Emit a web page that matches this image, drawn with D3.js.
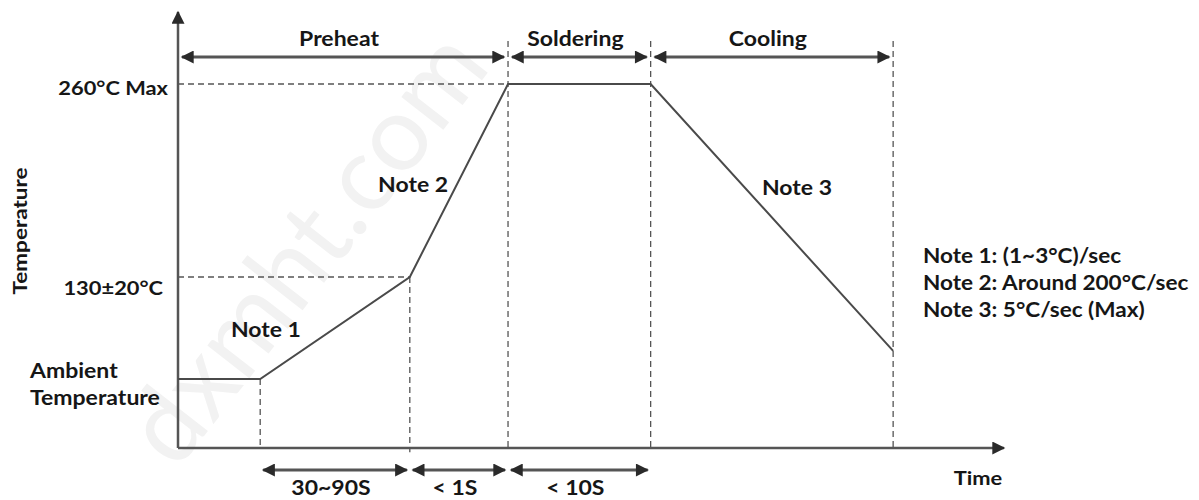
<!DOCTYPE html>
<html>
<head>
<meta charset="utf-8">
<script src="https://cdn.jsdelivr.net/npm/d3@7"></script>
<style>
  body { margin: 0; background: #fff; }
  text { font-family: Lato, "Open Sans", sans-serif; font-weight: bold; fill: #161616; }
</style>
</head>
<body>
<div id="chart"></div>
<script>
// reflow profile key points (time in schematic units, temp in °C)
const profileTime = [0, 10, 28.2, 40.15, 57.5, 87];
const profileTemp = [61.3, 61.3, 130, 260, 260, 80.2];

// phases along the top
const phaseNames = ['Preheat', 'Soldering', 'Cooling'];
const phaseStart = [0, 40.15, 57.5];
const phaseEnd = [40.15, 57.5, 87];

// durations along the bottom
const durLabels = ['30~90S', '< 1S', '< 10S'];
const durStart = [10, 28.2, 40.15];
const durEnd = [28.2, 40.15, 57.5];

// slope notes on the curve
const noteLabels = ['Note 1', 'Note 2', 'Note 3'];
const noteTime = [10.7, 28.6, 75.3];
const noteTemp = [89.6, 187.3, 185.3];

const legendLines = ['Note 1: (1~3°C)/sec', 'Note 2: Around 200°C/sec', 'Note 3: 5°C/sec (Max)'];

const width = 1199;
const height = 500;
const margin = { top: 12, right: 199, bottom: 52, left: 178 };

const svg = d3.select('#chart')
  .append('svg')
  .attr('width', width)
  .attr('height', height);

const x = d3.scaleLinear()
  .domain([0, 100])
  .range([margin.left, width - margin.right]);

const y = d3.scaleLinear()
  .domain([14.8, 308.5])
  .range([height - margin.bottom, margin.top]);

const sx = 1.15; // the source lettering is a little wide

const defs = svg.append('defs');
defs.append('marker')
  .attr('id', 'head')
  .attr('viewBox', '0 0 10 10')
  .attr('refX', 9).attr('refY', 5)
  .attr('markerWidth', 15).attr('markerHeight', 13)
  .attr('markerUnits', 'userSpaceOnUse')
  .attr('orient', 'auto-start-reverse')
  .append('path')
  .attr('d', 'M0,0 L10,5 L0,10 Z')
  .attr('fill', '#2a2a2a');

// watermark
svg.append('text')
  .attr('transform', `translate(${x(19)},${y(135)}) rotate(-52)`)
  .attr('text-anchor', 'middle')
  .attr('font-size', 105)
  .style('font-weight', 'normal')
  .style('fill', '#f2f2f2')
  .text('dxmht.com');

function label(px, py, txt, size, anchor) {
  return svg.append('text')
    .attr('transform', `translate(${px},${py}) scale(${sx},1)`)
    .attr('text-anchor', anchor || 'start')
    .attr('font-size', size)
    .text(txt);
}

// axes
svg.append('line')
  .attr('x1', x(0)).attr('x2', x(0))
  .attr('y1', y(14.8)).attr('y2', y(308.5))
  .attr('stroke', '#555').attr('stroke-width', 2.5)
  .attr('marker-end', 'url(#head)');

svg.append('line')
  .attr('x1', x(0)).attr('x2', x(100) + 4)
  .attr('y1', y(14.8)).attr('y2', y(14.8))
  .attr('stroke', '#555').attr('stroke-width', 2.5)
  .attr('marker-end', 'url(#head)');

const dash = g => g.attr('stroke', '#555').attr('stroke-width', 1.3).attr('stroke-dasharray', '6,4');

// horizontal dashed guides
[[130, 28.2], [260, 40.15]].forEach(([t, tm]) => {
  svg.append('line')
    .attr('x1', x(0)).attr('x2', x(tm))
    .attr('y1', y(t)).attr('y2', y(t))
    .call(dash);
});

// vertical dashed guides
const vGuides = [
  { t: 10, top: 61.3, bottom: 14.8 },
  { t: 28.2, top: 130, bottom: 12 },
  { t: 40.15, top: 289, bottom: 14.8 },
  { t: 57.5, top: 289, bottom: 14.8 },
  { t: 87, top: 289, bottom: 14.8 }
];
vGuides.forEach(d => {
  svg.append('line')
    .attr('x1', x(d.t)).attr('x2', x(d.t))
    .attr('y1', y(d.top)).attr('y2', y(d.bottom))
    .call(dash);
});

// profile line
const line = d3.line()
  .x((d, i) => x(profileTime[i]))
  .y(d => y(d));

svg.append('path')
  .datum(profileTemp)
  .attr('d', line)
  .attr('fill', 'none')
  .attr('stroke', '#4a4a4a')
  .attr('stroke-width', 2);

// double-headed arrows with labels
function spans(starts, ends, labels, arrowY, labelY, inset) {
  const g = svg.append('g');
  g.selectAll('line')
    .data(labels)
    .join('line')
    .attr('x1', (d, i) => x(starts[i]) + inset)
    .attr('x2', (d, i) => x(ends[i]) - inset)
    .attr('y1', arrowY).attr('y2', arrowY)
    .attr('stroke', '#555').attr('stroke-width', 3)
    .attr('marker-start', 'url(#head)')
    .attr('marker-end', 'url(#head)');
  g.selectAll('text')
    .data(labels)
    .join('text')
    .attr('transform', (d, i) => `translate(${(x(starts[i]) + x(ends[i])) / 2 - 4},${labelY}) scale(${sx},1)`)
    .attr('text-anchor', 'middle')
    .attr('font-size', 20)
    .text(d => d);
}

spans(phaseStart, phaseEnd, phaseNames, 57, 46, 4);
spans(durStart, durEnd, durLabels, 470, 495, 3);

// y side labels
label(168, 95, '260°C Max', 19, 'end');
label(163, 295, '130±20°C', 19, 'end');
label(30, 378, 'Ambient', 20);
label(30, 405, 'Temperature', 20);

svg.append('text')
  .attr('transform', `translate(27,231) rotate(-90) scale(1.25,1)`)
  .attr('text-anchor', 'middle')
  .attr('font-size', 18)
  .text('Temperature');

label(978, 485, 'Time', 19, 'middle');

// slope notes
svg.append('g')
  .selectAll('text')
  .data(noteLabels)
  .join('text')
  .attr('transform', (d, i) => `translate(${x(noteTime[i])},${y(noteTemp[i])}) scale(${sx},1)`)
  .attr('text-anchor', 'middle')
  .attr('font-size', 20)
  .text(d => d);

// legend notes
svg.append('g')
  .selectAll('text')
  .data(legendLines)
  .join('text')
  .attr('transform', (d, i) => `translate(923,${263 + i * 27}) scale(1.1,1)`)
  .attr('font-size', 20.5)
  .text(d => d);
</script>
</body>
</html>
